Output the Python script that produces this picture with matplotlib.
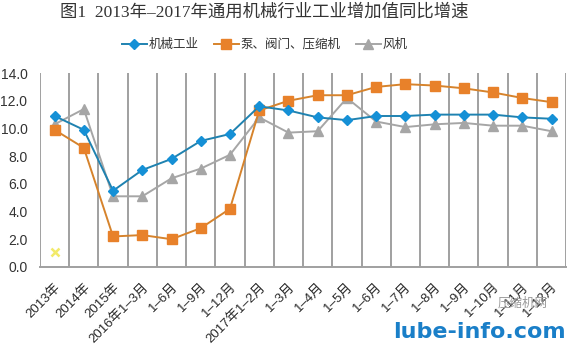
import matplotlib.pyplot as plt
import numpy as np

plt.rcParams['font.family'] = ['Noto Sans CJK SC', 'DejaVu Sans']

categories = ['2013年', '2014年', '2015年', '2016年1–3月', '1–6月', '1–9月', '1–12月',
              '2017年1–2月', '1–3月', '1–4月', '1–5月', '1–6月', '1–7月', '1–8月',
              '1–9月', '1–10月', '1–11月', '1–12月']
machinery = [10.9, 9.9, 5.5, 7.0, 7.8, 9.1, 9.6, 11.6, 11.3,
             10.8, 10.6, 10.9, 10.9, 11.0, 11.0, 11.0, 10.8, 10.7]
pumps = [9.9, 8.6, 2.2, 2.3, 2.0, 2.8, 4.2, 11.3, 12.0,
         12.4, 12.4, 13.0, 13.2, 13.1, 12.9, 12.6, 12.2, 11.9]
fans = [10.3, 11.4, 5.1, 5.1, 6.4, 7.1, 8.1, 10.8, 9.7,
        9.8, 12.2, 10.5, 10.1, 10.3, 10.4, 10.2, 10.2, 9.8]
stray = [1.1]

tick_font = ['Liberation Sans', 'Noto Sans CJK SC']

fig = plt.figure(figsize=(5.67, 3.48), dpi=100)
ax = fig.add_axes([0.0705, 0.233, 0.928, 0.557])

x = np.arange(len(categories))

# vertical category separators
for b in np.arange(len(categories) + 1) - 0.5:
    ax.axvline(b, color='#a0a0a0', linewidth=1.4, zorder=0)

ax.plot(x, fans, color='#a6a6a6', marker='^', markersize=7.5, linewidth=1.4,
        label='风机', zorder=2)
ax.plot(x, pumps, color='#d6832c', marker='s', markersize=6.5, linewidth=1.4,
        markerfacecolor='#e8812a', markeredgecolor='#e8812a', label='泵、阀门、压缩机', zorder=3)
ax.plot(x, machinery, color='#1f82b0', marker='D', markersize=5.5, linewidth=1.4,
        markerfacecolor='#1590d6', markeredgecolor='#1590d6', label='机械工业', zorder=4)
ax.plot(x[:1], stray, linestyle='none', marker='x', color='#f2ea6a', markersize=6,
        markeredgewidth=1.8, zorder=3)

ax.set_xlim(-0.5, len(categories) - 0.5)
ax.set_ylim(0, 14)
ax.set_yticks(np.arange(0, 15, 2))
ax.set_yticklabels([f'{v:.1f}' for v in np.arange(0, 15, 2)], fontsize=10,
                   color='#333333', family=tick_font)
ax.set_xticks(x)
ax.set_xticklabels(categories, rotation=45, ha='right', rotation_mode='anchor',
                   fontsize=9.5, color='#2a2a2a', family=tick_font)
ax.tick_params(axis='x', length=0, pad=10)
ax.tick_params(axis='y', length=0, pad=9)
for s in ['top', 'right', 'left']:
    ax.spines[s].set_visible(False)
ax.spines['bottom'].set_color('#a0a0a0')
ax.spines['bottom'].set_linewidth(1.4)

handles, labels = ax.get_legend_handles_labels()
order = [2, 1, 0]
fig.legend([handles[i] for i in order], [labels[i] for i in order], loc='center',
           bbox_to_anchor=(0.467, 0.872), ncol=3, frameon=False, fontsize=9,
           handlelength=2.0, columnspacing=1.2, handletextpad=0.15,
           labelcolor='#333333')

fig.text(0.466, 0.965, '图1  2013年–2017年通用机械行业工业增加值同比增速',
         ha='center', va='center', fontsize=12.5, color='#333333',
         family=['Liberation Serif', 'Noto Sans CJK SC'])

fig.text(0.965, 0.128, '压缩机网', ha='right', va='center', fontsize=9, color='#9a9a9a')
fig.text(0.997, 0.045, 'lube-info.com', ha='right', va='center', fontsize=16,
         fontweight='bold', color='#1a7fc8', family='DejaVu Sans')

fig.savefig('out.png', dpi=100)
